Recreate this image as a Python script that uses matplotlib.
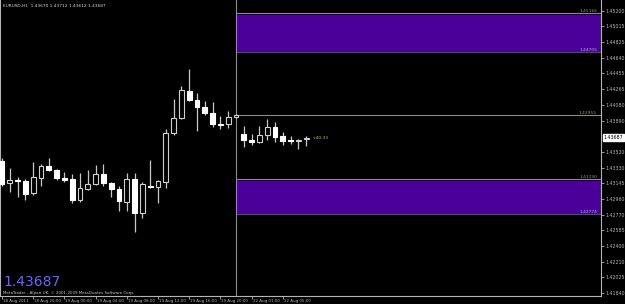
import matplotlib
matplotlib.use("Agg")
import matplotlib.pyplot as plt
import matplotlib.transforms as mtransforms
import numpy as np

# EURUSD H1 candles (open, high, low, close)
opens = [1.43407, 1.43146, 1.43182, 1.43170, 1.43027, 1.43205, 1.43348, 1.43300, 1.43205, 1.43193,
         1.42944, 1.43075, 1.43134, 1.43253, 1.43146, 1.43075, 1.42920, 1.43193, 1.42790, 1.43110,
         1.43098, 1.43158, 1.43740, 1.43918, 1.44238, 1.44131, 1.44048, 1.43977, 1.43846, 1.43846,
         1.43929, 1.43728, 1.43656, 1.43633, 1.43716, 1.43811, 1.43704, 1.43656, 1.43650, 1.43668]
highs = [1.43443, 1.43324, 1.43217, 1.43193, 1.43395, 1.43371, 1.43443, 1.43312, 1.43277, 1.43253,
         1.43265, 1.43300, 1.43360, 1.43371, 1.43158, 1.43110, 1.43265, 1.43265, 1.43158, 1.43419,
         1.43182, 1.43787, 1.44143, 1.44298, 1.44499, 1.44214, 1.44119, 1.44108, 1.43941, 1.44001,
         1.43965, 1.43823, 1.43728, 1.43823, 1.43906, 1.43870, 1.43751, 1.43704, 1.43668, 1.43712]
lows = [1.43110, 1.43039, 1.42980, 1.42944, 1.43003, 1.43110, 1.43288, 1.43182, 1.43158, 1.42908,
        1.42920, 1.43063, 1.43122, 1.43110, 1.42980, 1.42814, 1.42814, 1.42564, 1.42730, 1.43090,
        1.42908, 1.43087, 1.43716, 1.43906, 1.44119, 1.43763, 1.43953, 1.43811, 1.43787, 1.43799,
        1.43918, 1.43573, 1.43597, 1.43621, 1.43656, 1.43633, 1.43597, 1.43609, 1.43550, 1.43585]
closes = [1.43134, 1.43182, 1.43170, 1.43015, 1.43217, 1.43348, 1.43300, 1.43205, 1.43182, 1.42944,
          1.43087, 1.43134, 1.43253, 1.43146, 1.43075, 1.42932, 1.43193, 1.42790, 1.43134, 1.43098,
          1.43170, 1.43740, 1.43918, 1.44250, 1.44131, 1.44048, 1.43977, 1.43846, 1.43840, 1.43929,
          1.43953, 1.43656, 1.43633, 1.43716, 1.43811, 1.43692, 1.43645, 1.43650, 1.43656, 1.43687]

time_labels = ["18 Aug 2011", "18 Aug 20:00", "19 Aug 00:00", "19 Aug 04:00", "19 Aug 08:00",
               "19 Aug 12:00", "19 Aug 16:00", "19 Aug 20:00", "22 Aug 01:00", "22 Aug 05:00"]
time_label_bars = [0, 4, 8, 12, 16, 20, 24, 28, 32, 36]

price_ticks = [1.45200, 1.45015, 1.44825, 1.44640, 1.44455, 1.44265, 1.44080, 1.43890,
               1.43520, 1.43330, 1.43145, 1.42960, 1.42770, 1.42585, 1.42400, 1.42210,
               1.42025, 1.41840]

# zones / objects
separator_bar = 30
hline_price = 1.43955
zone_upper = (1.45166, 1.44705)
zone_lower = (1.43190, 1.42774)
last_price = 1.43687
countdown = "+40:33"
title = "EURUSD,H1  1.43670 1.43712 1.43612 1.43687"
copyright_text = "MetaTrader - Alpari UK, \u00a9 2001-2009 MetaQuotes Software Corp."

axis_col = "#b4b4b4"
zone_col = "#4b0099"
green_lbl = "#7f9f6f"
lav_lbl = "#b8a8e0"

fig = plt.figure(figsize=(6.25, 3.04), dpi=100, facecolor="black")
ax = fig.add_axes([0, 8 / 304, 601 / 625, 296 / 304], facecolor="black")

x_left, x_right = -0.26, 76.8
ax.set_xlim(x_left, x_right)
ax.set_ylim(1.41804, 1.45325)

# zones
for hi, lo in [zone_upper, zone_lower]:
    ax.fill_between([separator_bar, x_right], lo, hi - 0.00018, color=zone_col, lw=0, zorder=1)
    ax.hlines(hi, separator_bar, x_right, color="#8c8c8c", lw=0.8, zorder=2)
    ax.hlines(lo, separator_bar, x_right, color="#6a50a8", lw=0.6, zorder=2)
    ax.text(x_right - 0.5, hi + 0.00005, "%.5f" % hi, color=green_lbl, fontsize=3.2,
            ha="right", va="bottom", zorder=5)
    ax.text(x_right - 0.5, lo + 0.00005, "%.5f" % lo, color=lav_lbl, fontsize=3.2,
            ha="right", va="bottom", zorder=5)

ax.hlines(hline_price, separator_bar, x_right, color="#8c8c8c", lw=0.8, zorder=2)
ax.text(x_right - 0.5, hline_price + 0.00005, "%.5f" % hline_price, color=green_lbl,
        fontsize=3.2, ha="right", va="bottom", zorder=5)
ax.axvline(separator_bar, color="#8c8c8c", lw=0.8, zorder=2)

# candles
idx = np.arange(len(opens))
o = np.array(opens)
c = np.array(closes)
ax.vlines(idx, lows, highs, color="#c8c8c8", lw=0.9, zorder=3)
bull = c >= o
body_lo = np.minimum(o, c)
body_h = np.maximum(np.abs(c - o), 0.00001)
ax.bar(idx[bull], body_h[bull], bottom=body_lo[bull], width=0.62,
       facecolor="black", edgecolor="#d0d0d0", lw=0.8, zorder=4)
ax.bar(idx[~bull], body_h[~bull], bottom=body_lo[~bull], width=0.62,
       facecolor="white", edgecolor="white", lw=0.8, zorder=4)

ax.text(len(opens) - 0.2, last_price, countdown, color="#c0c420", fontsize=3.2,
        ha="left", va="center", zorder=5)

# axes styling
ax.spines["top"].set_visible(False)
for s in ["right", "bottom", "left"]:
    ax.spines[s].set_color(axis_col)
    ax.spines[s].set_linewidth(0.8)

ax.yaxis.tick_right()
ax.set_yticks(price_ticks)
ax.set_yticklabels(["%.5f" % p for p in price_ticks])
ax.tick_params(axis="y", colors=axis_col, labelsize=3.4, length=2, width=0.6, pad=1)
ax.set_xticks(time_label_bars)
ax.set_xticklabels(time_labels)
ax.tick_params(axis="x", colors=axis_col, labelsize=2.9, length=2, width=0.6, pad=0.5)
plt.setp(ax.get_xticklabels(), ha="left")
for lbl in ax.get_xticklabels():
    lbl.set_transform(lbl.get_transform() + mtransforms.ScaledTranslation(1 / 100, 0, fig.dpi_scale_trans))

# current price tag
trans = mtransforms.blended_transform_factory(ax.transAxes, ax.transData)
ax.text(1.004, last_price, "%.5f" % last_price, transform=trans, color="black", fontsize=3.4,
        ha="left", va="center", clip_on=False, zorder=6,
        bbox=dict(boxstyle="square,pad=0.15", facecolor="white", edgecolor="white"))

fig.text(3 / 625, 1 - 7 / 304, title, color="#d8d8d8", fontsize=3.1, ha="left", va="baseline")
fig.text(3 / 625, (304 - 286) / 304, "%.5f" % last_price, color="#6c62ff", fontsize=10,
         ha="left", va="baseline")
fig.text(3 / 625, (304 - 294) / 304, copyright_text, color="#c8c8c8", fontsize=2.9,
         ha="left", va="baseline")

fig.savefig("out.png", dpi=100, facecolor="black")
